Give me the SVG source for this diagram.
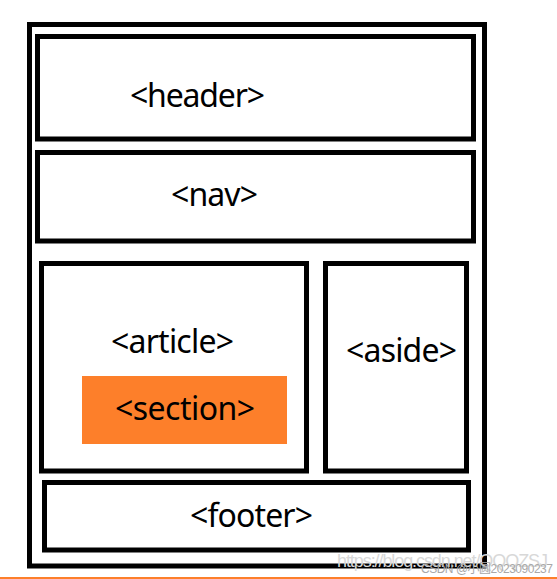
<svg xmlns="http://www.w3.org/2000/svg" width="557" height="579" viewBox="0 0 557 579">
<style>
.box{fill:none;stroke:#000;stroke-width:5}
.lbl{font-family:"Noto Sans","Open Sans","DejaVu Sans",sans-serif;font-size:32px;fill:#000}
.wm1{font-family:"Liberation Sans",Arial,sans-serif;font-size:18px;fill:#d8d8d8}
.wm2{font-family:"Liberation Sans","Noto Sans CJK SC",sans-serif;font-size:12px;fill:#a8a8a8}
</style>
<rect x="0" y="0" width="557" height="579" fill="#fff"/>
<g id="body"><rect class="box" x="29.5" y="24.5" width="455" height="541.5"/></g>
<g id="header"><rect class="box" x="37.5" y="36.5" width="436" height="102.5"/><text class="lbl" x="130" y="107" textLength="135" lengthAdjust="spacing">&lt;header&gt;</text></g>
<g id="nav"><rect class="box" x="37.5" y="152.5" width="436" height="88.5"/><text class="lbl" x="171" y="206" textLength="87" lengthAdjust="spacing">&lt;nav&gt;</text></g>
<g id="article"><rect class="box" x="41.5" y="263.5" width="265" height="207.5"/><text class="lbl" x="111" y="353" textLength="123" lengthAdjust="spacing">&lt;article&gt;</text></g>
<g id="section"><rect x="82" y="376" width="205" height="68" fill="#fd7f2a"/><text class="lbl" x="115" y="420" textLength="140" lengthAdjust="spacing">&lt;section&gt;</text></g>
<g id="aside"><rect class="box" x="325.5" y="263.5" width="141" height="207.5"/><text class="lbl" x="346" y="362" textLength="111" lengthAdjust="spacing">&lt;aside&gt;</text></g>
<g id="footer"><rect class="box" x="44.5" y="482.5" width="424" height="67.5"/><text class="lbl" x="190" y="527" textLength="123" lengthAdjust="spacing">&lt;footer&gt;</text></g>
<g id="connectors"></g>
<g id="watermark">
<text class="wm1" x="337" y="567" textLength="211" lengthAdjust="spacing">https://blog.csdn.net/QQQZSJ</text>
<text class="wm2" x="421" y="573" textLength="132" lengthAdjust="spacing">CSDN @小圆2023090237</text>
</g>
<rect x="0" y="577" width="557" height="2" fill="#fd7f2a"/>
</svg>
